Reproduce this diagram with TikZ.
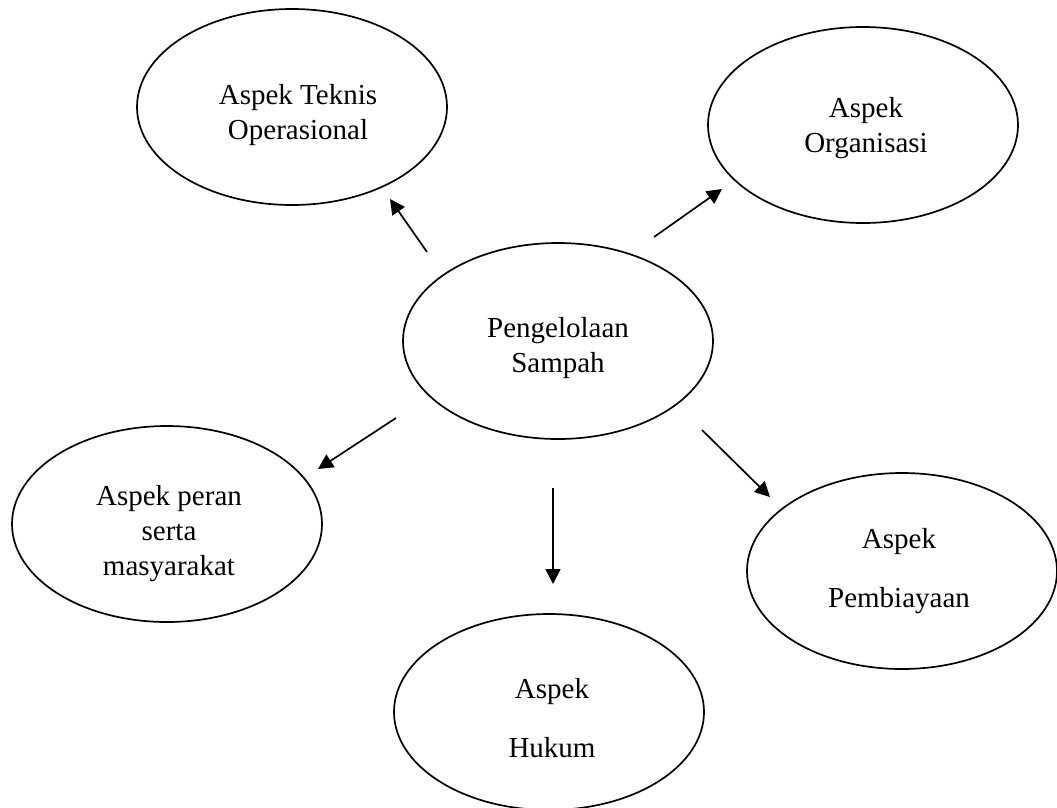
\documentclass[tikz,border=0pt]{standalone}
\usepackage{fontspec}
\setmainfont{Liberation Serif}
\usetikzlibrary{arrows.meta, shapes.geometric}

\begin{document}
\begin{tikzpicture}[x=1pt, y=-1pt,
    aspect/.style={draw, ellipse, line width=1.7pt, inner sep=0pt,
      minimum width=310pt, minimum height=196pt},
    caption/.style={align=center, anchor=base, inner sep=0pt,
      font=\fontsize{29}{35}\selectfont},
    widecaption/.style={caption, font=\fontsize{29}{59}\selectfont},
    link/.style={line width=1.7pt, -{Triangle[length=15pt, width=15pt]}}]
  \useasboundingbox (0,0) rectangle (1057,807);

  % ellipses
  \node[aspect] (teknis)     at (292,107) {};
  \node[aspect] (organisasi) at (863,125) {};
  \node[aspect] (pusat)      at (558,341) {};
  \node[aspect] (peran)      at (167,524) {};
  \node[aspect] (hukum)      at (549,712) {};
  \node[aspect] (biaya)      at (902,571) {};

  % labels (placed by the baseline of their last line)
  \node[caption] (tTeknis)     at (298,139) {Aspek Teknis\\Operasional};
  \node[caption] (tOrganisasi) at (866,152) {Aspek\\Organisasi};
  \node[caption] (tPusat)      at (558,372) {Pengelolaan\\Sampah};
  \node[caption] (tPeran)      at (169,575) {Aspek peran\\serta\\masyarakat};
  \node[widecaption] (tHukum)  at (552,757) {Aspek\\Hukum};
  \node[widecaption] (tBiaya)  at (899,607) {Aspek\\Pembiayaan};

  % arrow ends
  \coordinate (s1) at (427,252); \coordinate (e1) at (390,199);
  \coordinate (s2) at (654,237); \coordinate (e2) at (722,189);
  \coordinate (s3) at (396,418); \coordinate (e3) at (318,469);
  \coordinate (s4) at (553,488); \coordinate (e4) at (553,584);
  \coordinate (s5) at (702,430); \coordinate (e5) at (770,497);

  \draw[link] (s1) -- (e1);
  \draw[link] (s2) -- (e2);
  \draw[link] (s3) -- (e3);
  \draw[link] (s4) -- (e4);
  \draw[link] (s5) -- (e5);
\end{tikzpicture}
\end{document}
